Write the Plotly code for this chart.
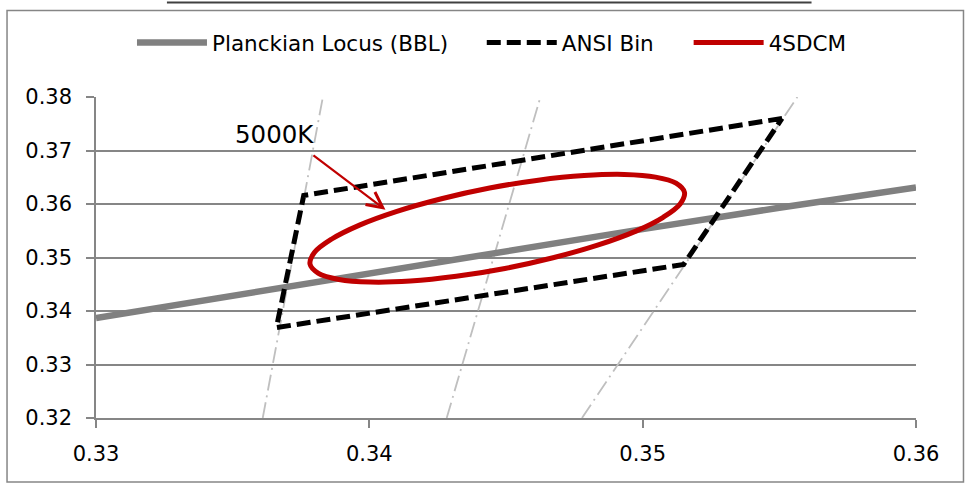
import plotly.graph_objects as go

# ---- data ----
bbl_x = [0.330, 0.335, 0.340, 0.345, 0.350, 0.355, 0.360]
bbl_y = [0.3387, 0.3429, 0.3471, 0.3512, 0.3553, 0.3593, 0.3631]

ansi_x = [0.3551, 0.3376, 0.3366, 0.3515, 0.3551]
ansi_y = [0.3760, 0.3616, 0.3369, 0.3487, 0.3760]

sdcm_x = [0.35153, 0.35122, 0.35047, 0.34933, 0.34786, 0.34618, 0.34440, 0.34264,
          0.34101, 0.33964, 0.33861, 0.33799, 0.33783, 0.33814, 0.33889, 0.34003,
          0.34150, 0.34318, 0.34496, 0.34672, 0.34835, 0.34973, 0.35075, 0.35137,
          0.35153]
sdcm_y = [0.36217, 0.36389, 0.36503, 0.36552, 0.36531, 0.36445, 0.36298, 0.36098,
          0.35862, 0.35605, 0.35341, 0.35093, 0.34876, 0.34704, 0.34590, 0.34541,
          0.34560, 0.34648, 0.34795, 0.34995, 0.35231, 0.35489, 0.35752, 0.36001,
          0.36217]

iso_x = [[0.3361, 0.3383], [0.34283, 0.34626], [0.34778, 0.35566]]
iso_y = [[0.320, 0.380], [0.320, 0.380], [0.320, 0.380]]

x_ticks = [0.33, 0.34, 0.35, 0.36]
y_ticks = [0.32, 0.33, 0.34, 0.35, 0.36, 0.37, 0.38]

FONT = "DejaVu Sans"

fig = go.Figure()

for ix, iy in zip(iso_x, iso_y):
    fig.add_trace(go.Scatter(x=ix, y=iy, mode="lines", showlegend=False,
                             hoverinfo="skip",
                             line=dict(color="#BFBFBF", width=1.8,
                                       dash="16px,5px,2px,5px")))

fig.add_trace(go.Scatter(x=bbl_x, y=bbl_y, mode="lines", name="Planckian Locus (BBL)",
                         legend="legend",
                         line=dict(color="#808080", width=6.5)))
fig.add_trace(go.Scatter(x=ansi_x, y=ansi_y, mode="lines", name="ANSI Bin",
                         legend="legend2",
                         line=dict(color="#000000", width=5, dash="14px,6px")))
fig.add_trace(go.Scatter(x=sdcm_x, y=sdcm_y, mode="lines", name="4SDCM",
                         legend="legend3",
                         line=dict(color="#C00000", width=5, shape="spline")))

fig.add_annotation(x=0.34059, y=0.35892, ax=0.33790, ay=0.36929,
                   axref="x", ayref="y", xref="x", yref="y", text="",
                   showarrow=True, arrowhead=5, arrowsize=1.4, arrowwidth=2.2,
                   arrowcolor="#C00000", standoff=0)
fig.add_annotation(x=0.33653, y=0.37294, xref="x", yref="y", text="5000K",
                   showarrow=False, font=dict(family=FONT, size=24.5, color="#000"))

# outer border and top rule
fig.add_shape(type="rect", xref="paper", yref="paper",
              x0=-0.1085, x1=1.0579, y0=-0.1992, y1=1.2698,
              line=dict(color="#868686", width=1.5), layer="below")
fig.add_shape(type="line", xref="paper", yref="paper",
              x0=0.0865, x1=0.8726, y0=1.2947, y1=1.2947,
              line=dict(color="#404040", width=2))

leg_common = dict(orientation="h", yanchor="middle", y=1.17, xanchor="left",
                  font=dict(family=FONT, size=21.5, color="#000"),
                  itemwidth=70, bgcolor="rgba(0,0,0,0)")

fig.update_layout(
    width=973, height=487,
    margin=dict(l=96, r=56.5, t=96.7, b=69),
    paper_bgcolor="white", plot_bgcolor="white",
    font=dict(family=FONT, size=21, color="#000"),
    showlegend=True,
    legend=dict(leg_common, x=(132 - 96) / 820.5),
    legend2=dict(leg_common, x=(482 - 96) / 820.5),
    legend3=dict(leg_common, x=(689 - 96) / 820.5),
    xaxis=dict(range=[0.33, 0.36], tickvals=x_ticks, tickformat=".2f",
               showgrid=False, zeroline=False, showline=True,
               linecolor="#868686", linewidth=1.5,
               ticks="outside", ticklen=8, tickcolor="#868686", tickwidth=1.5,
               ticklabelstandoff=8),
    yaxis=dict(range=[0.32, 0.38], tickvals=y_ticks, tickformat=".2f",
               showgrid=True, gridcolor="#868686", gridwidth=1.5, zeroline=False,
               showline=True, linecolor="#868686", linewidth=1.5,
               ticks="outside", ticklen=8, tickcolor="#868686", tickwidth=1.5,
               ticklabelstandoff=10),
)

fig.write_html("out.html", config={"displayModeBar": False},
               post_script="document.body.style.margin='0';document.body.style.overflow='hidden';")
